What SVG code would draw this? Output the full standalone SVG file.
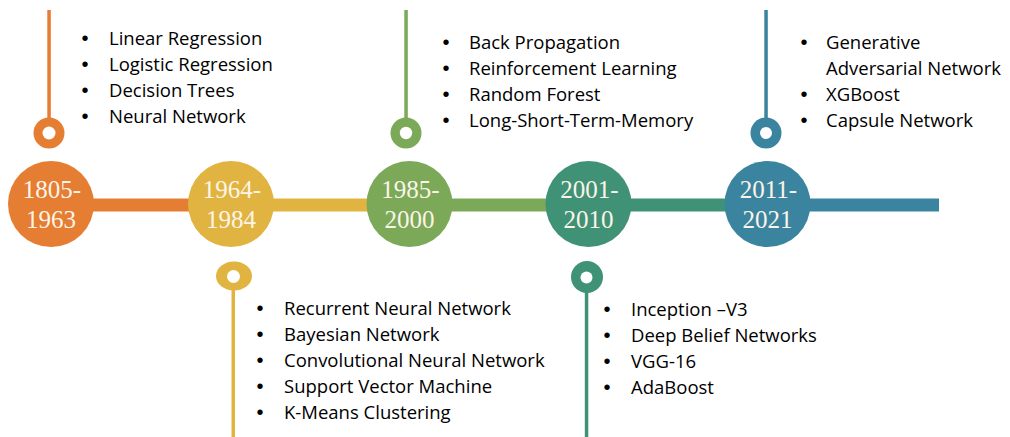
<svg xmlns="http://www.w3.org/2000/svg" width="1010" height="437" viewBox="0 0 1010 437">
<style>
.yr{font-family:"Liberation Serif","Times New Roman",serif;font-size:25px;fill:#FCF4E8;text-anchor:middle}
.it{font-family:"Open Sans","Liberation Sans",sans-serif;font-size:18.5px;fill:#000}
.bu{font-family:"Liberation Sans",Arial,sans-serif;font-size:20px;fill:#000;text-anchor:middle}
.hole{fill:#fff}
.or{fill:#E57D32}.ye{fill:#E1B441}.gr{fill:#7BA958}.te{fill:#409276}.bl{fill:#3B849F}
</style>
<g id="connectors">
<rect x="51" y="198.5" width="180" height="13" class="or"/>
<rect x="231" y="198.5" width="178.5" height="13" class="ye"/>
<rect x="409.5" y="198.5" width="179" height="13" class="gr"/>
<rect x="588.5" y="198.5" width="179" height="13" class="te"/>
<rect x="767.5" y="198.5" width="171.5" height="13" class="bl"/>
<rect x="47.3" y="10" width="3.5" height="110" class="or"/>
<rect x="404.3" y="10" width="3.5" height="110" class="gr"/>
<rect x="764.3" y="10" width="3.5" height="110" class="bl"/>
<rect x="231.5" y="288" width="3.5" height="149" class="ye"/>
<rect x="584.8" y="290" width="3.5" height="147" class="te"/>
</g>
<g id="node-1805-1963">
<circle cx="51" cy="204" r="43" class="or"/>
<text class="yr" x="52" y="198">1805-</text>
<text class="yr" x="51" y="228">1963</text>
</g>
<g id="node-1964-1984">
<circle cx="231" cy="204" r="43" class="ye"/>
<text class="yr" x="232" y="198">1964-</text>
<text class="yr" x="231" y="228">1984</text>
</g>
<g id="node-1985-2000">
<circle cx="409.5" cy="204" r="43" class="gr"/>
<text class="yr" x="410.5" y="198">1985-</text>
<text class="yr" x="409.5" y="228">2000</text>
</g>
<g id="node-2001-2010">
<circle cx="588.5" cy="204" r="43" class="te"/>
<text class="yr" x="589.5" y="198">2001-</text>
<text class="yr" x="588.5" y="228">2010</text>
</g>
<g id="node-2011-2021">
<circle cx="767.5" cy="204" r="43" class="bl"/>
<text class="yr" x="768.5" y="198">2011-</text>
<text class="yr" x="767.5" y="228">2021</text>
</g>
<g id="pin-1">
<circle cx="49" cy="133" r="15.5" class="or"/>
<circle cx="49" cy="133" r="6.5" class="hole"/>
</g>
<g id="pin-2">
<ellipse cx="234" cy="276" rx="18" ry="14.5" class="ye"/>
<circle cx="233.5" cy="276.5" r="6.5" class="hole"/>
</g>
<g id="pin-3">
<circle cx="406" cy="133" r="15.5" class="gr"/>
<circle cx="406" cy="133" r="6.2" class="hole"/>
</g>
<g id="pin-4">
<circle cx="587" cy="277" r="16" class="te"/>
<circle cx="586.5" cy="277.5" r="6" class="hole"/>
</g>
<g id="pin-5">
<circle cx="766" cy="133" r="15.5" class="bl"/>
<circle cx="766" cy="133" r="6" class="hole"/>
</g>
<g id="list-1805-1963">
<text class="bu" x="85" y="45">•</text><text class="it" x="109" y="45">Linear Regression</text>
<text class="bu" x="85" y="71">•</text><text class="it" x="109" y="71">Logistic Regression</text>
<text class="bu" x="85" y="97">•</text><text class="it" x="109" y="97">Decision Trees</text>
<text class="bu" x="85" y="123">•</text><text class="it" x="109" y="123">Neural Network</text>
</g>
<g id="list-1964-1984">
<text class="bu" x="260" y="315">•</text><text class="it" x="284" y="315">Recurrent Neural Network</text>
<text class="bu" x="260" y="341">•</text><text class="it" x="284" y="341">Bayesian Network</text>
<text class="bu" x="260" y="367">•</text><text class="it" x="284" y="367">Convolutional Neural Network</text>
<text class="bu" x="260" y="393">•</text><text class="it" x="284" y="393">Support Vector Machine</text>
<text class="bu" x="260" y="419">•</text><text class="it" x="284" y="419">K-Means Clustering</text>
</g>
<g id="list-1985-2000">
<text class="bu" x="446" y="48.5">•</text><text class="it" x="469" y="48.5">Back Propagation</text>
<text class="bu" x="446" y="74.5">•</text><text class="it" x="469" y="74.5">Reinforcement Learning</text>
<text class="bu" x="446" y="100.5">•</text><text class="it" x="469" y="100.5">Random Forest</text>
<text class="bu" x="446" y="126.5">•</text><text class="it" x="469" y="126.5">Long-Short-Term-Memory</text>
</g>
<g id="list-2001-2010">
<text class="bu" x="607" y="316">•</text><text class="it" x="631" y="316">Inception –V3</text>
<text class="bu" x="607" y="342">•</text><text class="it" x="631" y="342">Deep Belief Networks</text>
<text class="bu" x="607" y="368">•</text><text class="it" x="631" y="368">VGG-16</text>
<text class="bu" x="607" y="394">•</text><text class="it" x="631" y="394">AdaBoost</text>
</g>
<g id="list-2011-2021">
<text class="bu" x="804" y="48.5">•</text><text class="it" x="826" y="48.5">Generative</text>
<text class="it" x="826" y="74.5">Adversarial Network</text>
<text class="bu" x="804" y="100.5">•</text><text class="it" x="826" y="100.5">XGBoost</text>
<text class="bu" x="804" y="126.5">•</text><text class="it" x="826" y="126.5">Capsule Network</text>
</g>
</svg>
